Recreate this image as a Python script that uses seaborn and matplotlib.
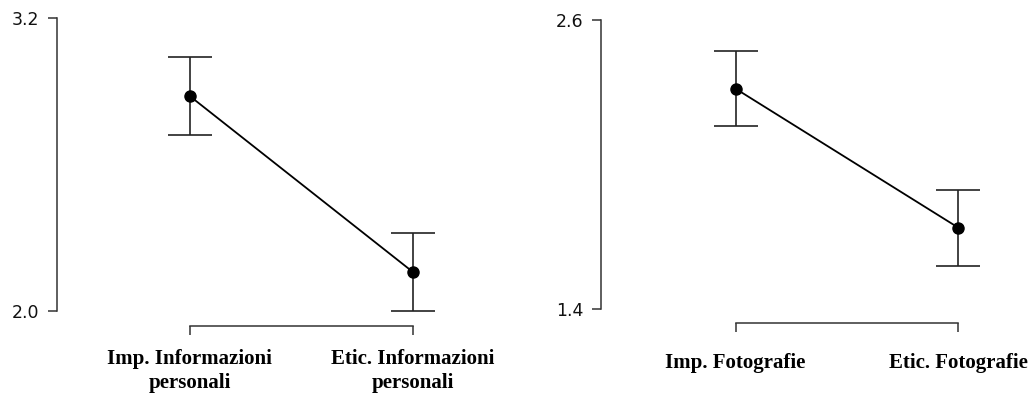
"""Descriptive plots: Imp. vs Etic. (two panels)."""

import matplotlib
matplotlib.use('Agg')
import matplotlib.pyplot as plt
import seaborn as sns
import pandas as pd

sns.set_theme(style="white")
plt.rcParams['font.family'] = ['DejaVu Sans']

# Data
info_labels = ['Imp. Informazioni\npersonali', 'Etic. Informazioni\npersonali']
info_means = [2.88, 2.16]
info_err = [0.16, 0.16]
info_ticks = [2.0, 3.2]

foto_labels = ['Imp. Fotografie', 'Etic. Fotografie']
foto_means = [2.315, 1.738]
foto_err = [0.155, 0.158]
foto_ticks = [1.4, 2.6]

W, H = 1032, 396
fig = plt.figure(figsize=(W / 100, H / 100), dpi=100)


def px_axes(left, top, right, bottom):
    return fig.add_axes([left / W, 1 - bottom / H, (right - left) / W, (bottom - top) / H])


def panel(ax, labels, means, err, ticks, xlim, offset, xpad):
    df = pd.DataFrame({'cond': labels, 'mean': means})
    sns.pointplot(data=df, x='cond', y='mean', errorbar=None, color='black',
                  markersize=8, linewidth=1.3, ax=ax)
    ax.errorbar(range(len(means)), means, yerr=err, fmt='none', ecolor='#222222',
                elinewidth=1.2, capsize=16, capthick=1.2, zorder=1)
    ax.set_xlim(*xlim)
    ax.set_ylim(ticks[0], ticks[-1])
    ax.set_yticks(ticks)
    ax.set_yticklabels([f'{t:.1f}' for t in ticks])
    ax.set_xlabel('')
    ax.set_ylabel('')
    for s in ['top', 'right']:
        ax.spines[s].set_visible(False)
    ax.spines['left'].set_bounds(ticks[0], ticks[-1])
    ax.spines['bottom'].set_bounds(0, len(labels) - 1)
    ax.spines['bottom'].set_position(('outward', offset))
    for s in ['left', 'bottom']:
        ax.spines[s].set_color('#333333')
        ax.spines[s].set_linewidth(1.1)
    ax.tick_params(axis='y', direction='out', length=6.5, width=1.1, color='#333333',
                   labelsize=12.5, pad=6, left=True, labelcolor='#111111')
    ax.tick_params(axis='x', direction='out', length=6.5, width=1.1, color='#333333',
                   pad=xpad, bottom=True, labelcolor='black')
    ax.grid(False)
    ax.set_facecolor('white')
    ax.set_xticks(range(len(labels)))
    ax.set_xticklabels(labels)
    fig.canvas.draw()
    for t in ax.get_xticklabels():
        t.set_fontfamily('Liberation Serif')
        t.set_fontweight('bold')
        t.set_fontsize(15)
        t.set_linespacing(1.25)


ax1 = px_axes(57, 18, 502, 311)
panel(ax1, info_labels, info_means, info_err, info_ticks, (-0.596, 1.4), 10.8, 10)

ax2 = px_axes(601, 20, 1025, 309)
panel(ax2, foto_labels, foto_means, foto_err, foto_ticks, (-0.604, 1.3), 10.1, 15)

fig.savefig('out.png', dpi=100, facecolor='white')
plt.close(fig)
